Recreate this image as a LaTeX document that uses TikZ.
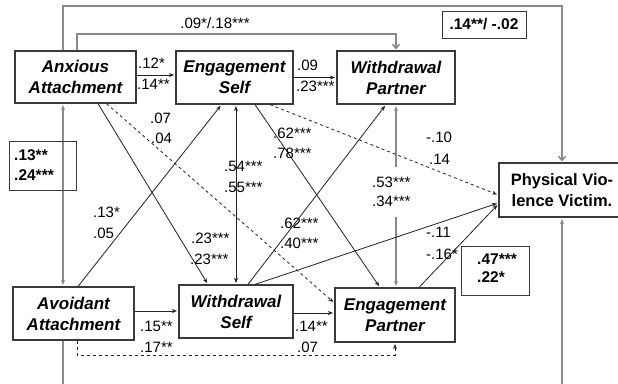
\documentclass[tikz,border=0pt]{standalone}
\usepackage{fontspec}
\setmainfont{Liberation Sans}
\usetikzlibrary{arrows.meta,calc}
\definecolor{boxc}{HTML}{3A3A3A}
\definecolor{linec}{HTML}{222222}
\definecolor{grayc}{HTML}{8A8A8A}
\begin{document}
\begin{tikzpicture}[x=1pt,y=-1pt,
  box/.style={draw=boxc, line width=1.2pt, inner sep=0pt, align=center,
    font=\fontsize{17}{21}\selectfont\bfseries\itshape},
  lab/.style={anchor=west, inner sep=0pt, font=\fontsize{15}{16}\selectfont},
  valbox/.style={draw=boxc, line width=1pt, inner sep=0pt},
  valtxt/.style={anchor=west, inner sep=0pt, align=left, font=\fontsize{15.5}{20}\selectfont\bfseries},
  conn/.style={draw=linec, line width=0.8pt},
  grayline/.style={draw=grayc, line width=1.5pt},
  grayconn/.style={draw=grayc, line width=1.2pt},
  tip/.style={-{Stealth[length=5pt,width=4pt]}, shorten >=1.5pt},
  both/.style={{Stealth[length=5pt,width=4pt]}-{Stealth[length=5pt,width=4pt]}, shorten >=1.5pt, shorten <=1.5pt},
  vtip/.style={-{Straight Barb[length=4pt,width=7pt]}, shorten >=1pt}
]
\clip (0,0) rectangle (618,383);
\fill[white] (0,0) rectangle (618,383);

% main boxes
\node[box, minimum width=121pt, minimum height=52pt] (anx) at (75.5,77) {Anxious\\Attachment};
\node[box, minimum width=117pt, minimum height=53pt] (engs) at (234.5,77.5) {Engagement\\Self};
\node[box, minimum width=118pt, minimum height=53pt] (wdp) at (396,77.5) {Withdrawal\\Partner};
\node[box, minimum width=126pt, minimum height=54pt, font=\fontsize{16.5}{21}\selectfont\bfseries] (pvv) at (562,190) {Physical Vio-\\lence Victim.};
\node[box, minimum width=121pt, minimum height=53pt] (avo) at (73.5,313.5) {Avoidant\\Attachment};
\node[box, minimum width=114pt, minimum height=53pt] (wds) at (236,311.5) {Withdrawal\\Self};
\node[box, minimum width=120pt, minimum height=54pt] (engp) at (395,315) {Engagement\\Partner};

% rails
\coordinate (rail1) at (0,6);
\coordinate (rail2) at (0,34);
\coordinate (rail3) at (0,395);
\coordinate (rail4) at (0,355);
\coordinate (gapTop) at (0,167);
\coordinate (gapBot) at (0,217);

\draw[grayline, vtip] ([xshift=-12.5pt]anx.north) |- (pvv.north |- rail1) -- (pvv.north);
\draw[grayline, vtip] ([xshift=1.5pt]anx.north) |- (wdp.north |- rail2) -- (wdp.north);
\draw[grayline, tip] ([xshift=-10.5pt]avo.south) |- (pvv.south |- rail3) -- (pvv.south);
\draw[conn, dashed, tip] ([xshift=3.5pt]avo.south) |- (engp.south |- rail4) -- (engp.south);

% horizontal connectors
\draw[conn, tip] ([yshift=2pt]anx.east) -- ([yshift=2pt]anx.east -| engs.west);
\draw[conn, tip] (engs.east) -- (engs.east -| wdp.west);
\draw[conn, tip] ([yshift=2.5pt]avo.east) -- ([yshift=2.5pt]avo.east -| wds.west);
\draw[conn, tip] ([yshift=-1.5pt]wds.east) -- ([yshift=-1.5pt]wds.east -| engp.west);

% vertical connectors
\draw[grayconn, both] ([xshift=-12.5pt]anx.south) -- ([xshift=-12.5pt]anx.south |- avo.north);
\draw[conn, both] ([xshift=1.5pt]engs.south) -- ([xshift=1.5pt]engs.south |- wds.north);
\draw[grayconn, {Stealth[length=5pt,width=4pt]}-, shorten <=1.5pt] (wdp.south) -- (wdp.south |- gapTop);
\draw[grayconn, tip] (wdp.south |- gapBot) -- (wdp.south |- engp.north);

% diagonal connectors
\draw[conn, tip] ([xshift=22.5pt]anx.south) -- ([xshift=-28pt]wds.north);
\draw[conn, dashed, tip] ([xshift=31pt]anx.south) -- ([yshift=12pt]engp.west);
\draw[conn, tip] ([xshift=4.5pt]avo.north) -- ([xshift=-13pt]engs.south);
\draw[conn, tip] ([xshift=20.5pt]engs.south) -- ([xshift=-15pt]engp.north);
\draw[conn, dashed, tip] ([xshift=35.5pt]engs.south) -- ([yshift=-5pt]pvv.west);
\draw[conn, tip] ([xshift=12pt]wds.north) -- ([xshift=-10pt]wdp.south);
\draw[conn, tip] ([xshift=19pt]wds.north) -- ([yshift=-13pt]pvv.west);
\draw[conn, tip] ([xshift=24pt]engp.north) -- ([yshift=-14pt]pvv.west);

% value boxes
\node[valbox, minimum width=67pt, minimum height=49pt] (c1) at (42.5,165.5) {};
\node[valtxt] (c1t) at (14,165) {.13**\\.24***};
\node[valbox, minimum width=84pt, minimum height=27pt, font=\fontsize{15.5}{18}\selectfont\bfseries] (c2) at (484,24.5) {.14**/ -.02};
\node[valbox, minimum width=68pt, minimum height=49pt] (c3) at (495,270.5) {};
\node[valtxt, font=\fontsize{15.5}{18}\selectfont\bfseries] (c3t) at (477,268) {.47***\\.22*};

% labels
\node[lab, anchor=center] (l1) at (215,23) {.09*/.18***};
\node[lab] (l2) at (138,63) {.12*};
\node[lab] (l3) at (137,84) {.14**};
\node[lab] (l4) at (297,65) {.09};
\node[lab] (l5) at (296,86) {.23***};
\node[lab] (l6) at (150,118) {.07};
\node[lab] (l7) at (151,138) {.04};
\node[lab] (l8) at (93,212) {.13*};
\node[lab] (l9) at (93,233) {.05};
\node[lab] (l10) at (191,238) {.23***};
\node[lab] (l11) at (190,259) {.23***};
\node[lab] (l12) at (224,166) {.54***};
\node[lab] (l13) at (224,187) {.55***};
\node[lab] (l14) at (273,133) {.62***};
\node[lab] (l15) at (273,153) {.78***};
\node[lab] (l16) at (280,223) {.62***};
\node[lab] (l17) at (280,243) {.40***};
\node[lab] (l18) at (372,182) {.53***};
\node[lab] (l19) at (372,201) {.34***};
\node[lab] (l20) at (426,137) {-.10};
\node[lab] (l21) at (429,159) {.14};
\node[lab] (l22) at (426,232) {-.11};
\node[lab] (l23) at (426,254) {-.16*};
\node[lab] (l24) at (140,326) {.15**};
\node[lab] (l25) at (140,347) {.17**};
\node[lab] (l26) at (295,326) {.14**};
\node[lab] (l27) at (297,347) {.07};
\end{tikzpicture}
\end{document}
